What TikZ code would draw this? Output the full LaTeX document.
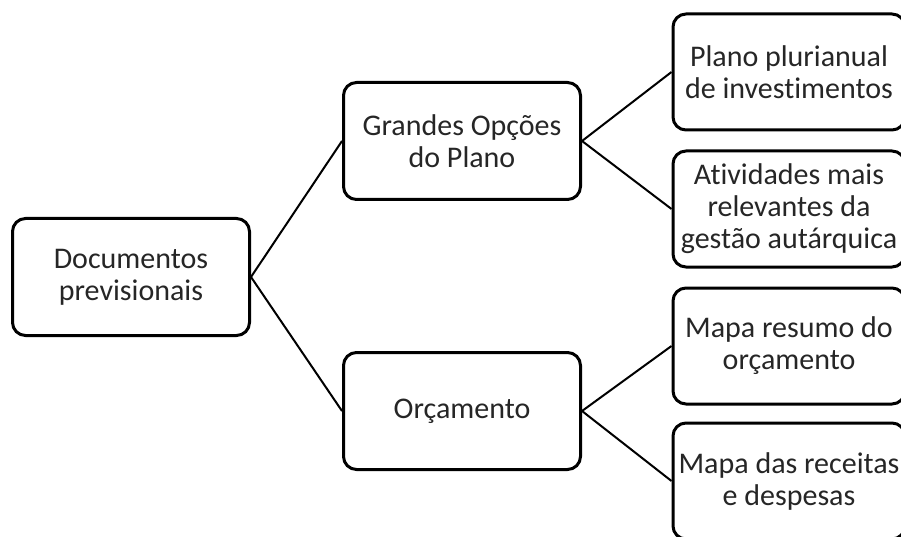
\documentclass[tikz,border=0pt]{standalone}
\usepackage{fontspec}
\setmainfont[Ligatures=NoCommon]{Carlito}
\begin{document}
\begin{tikzpicture}[x=1pt,y=-1pt,
  box/.style={draw=black,line width=3pt,rounded corners=13pt,fill=white,
    align=center,inner sep=0pt,font=\fontsize{30}{32}\selectfont,text=black!85},
  midbox/.style={box,minimum width=237pt,minimum height=117pt},
  rbox/.style={box,minimum width=232pt,minimum height=116pt},
  link/.style={draw=black,line width=2pt}]
\clip (0,0) rectangle (901,537);
\fill[white] (0,0) rectangle (901,537);
\node[midbox] (doc) at (131,277) {Documentos\\previsionais};
\node[midbox] (gop) at (462,141) {Grandes Opções\\do Plano};
\node[midbox] (orc) at (462,411) {Orçamento};
\node[rbox] (ppi) at (789,72) {Plano plurianual\\de investimentos};
\node[rbox] (atv) at (789,209) {Atividades mais\\relevantes da\\gestão autárquica};
\node[rbox] (mrs) at (789,346) {Mapa resumo do\\orçamento};
\node[rbox] (mrd) at (789,481) {Mapa das receitas\\e despesas};
\draw[link] (doc.east) -- (gop.west);
\draw[link] (doc.east) -- (orc.west);
\draw[link] (gop.east) -- (ppi.west);
\draw[link] (gop.east) -- (atv.west);
\draw[link] (orc.east) -- (mrs.west);
\draw[link] (orc.east) -- (mrd.west);
\end{tikzpicture}
\end{document}
